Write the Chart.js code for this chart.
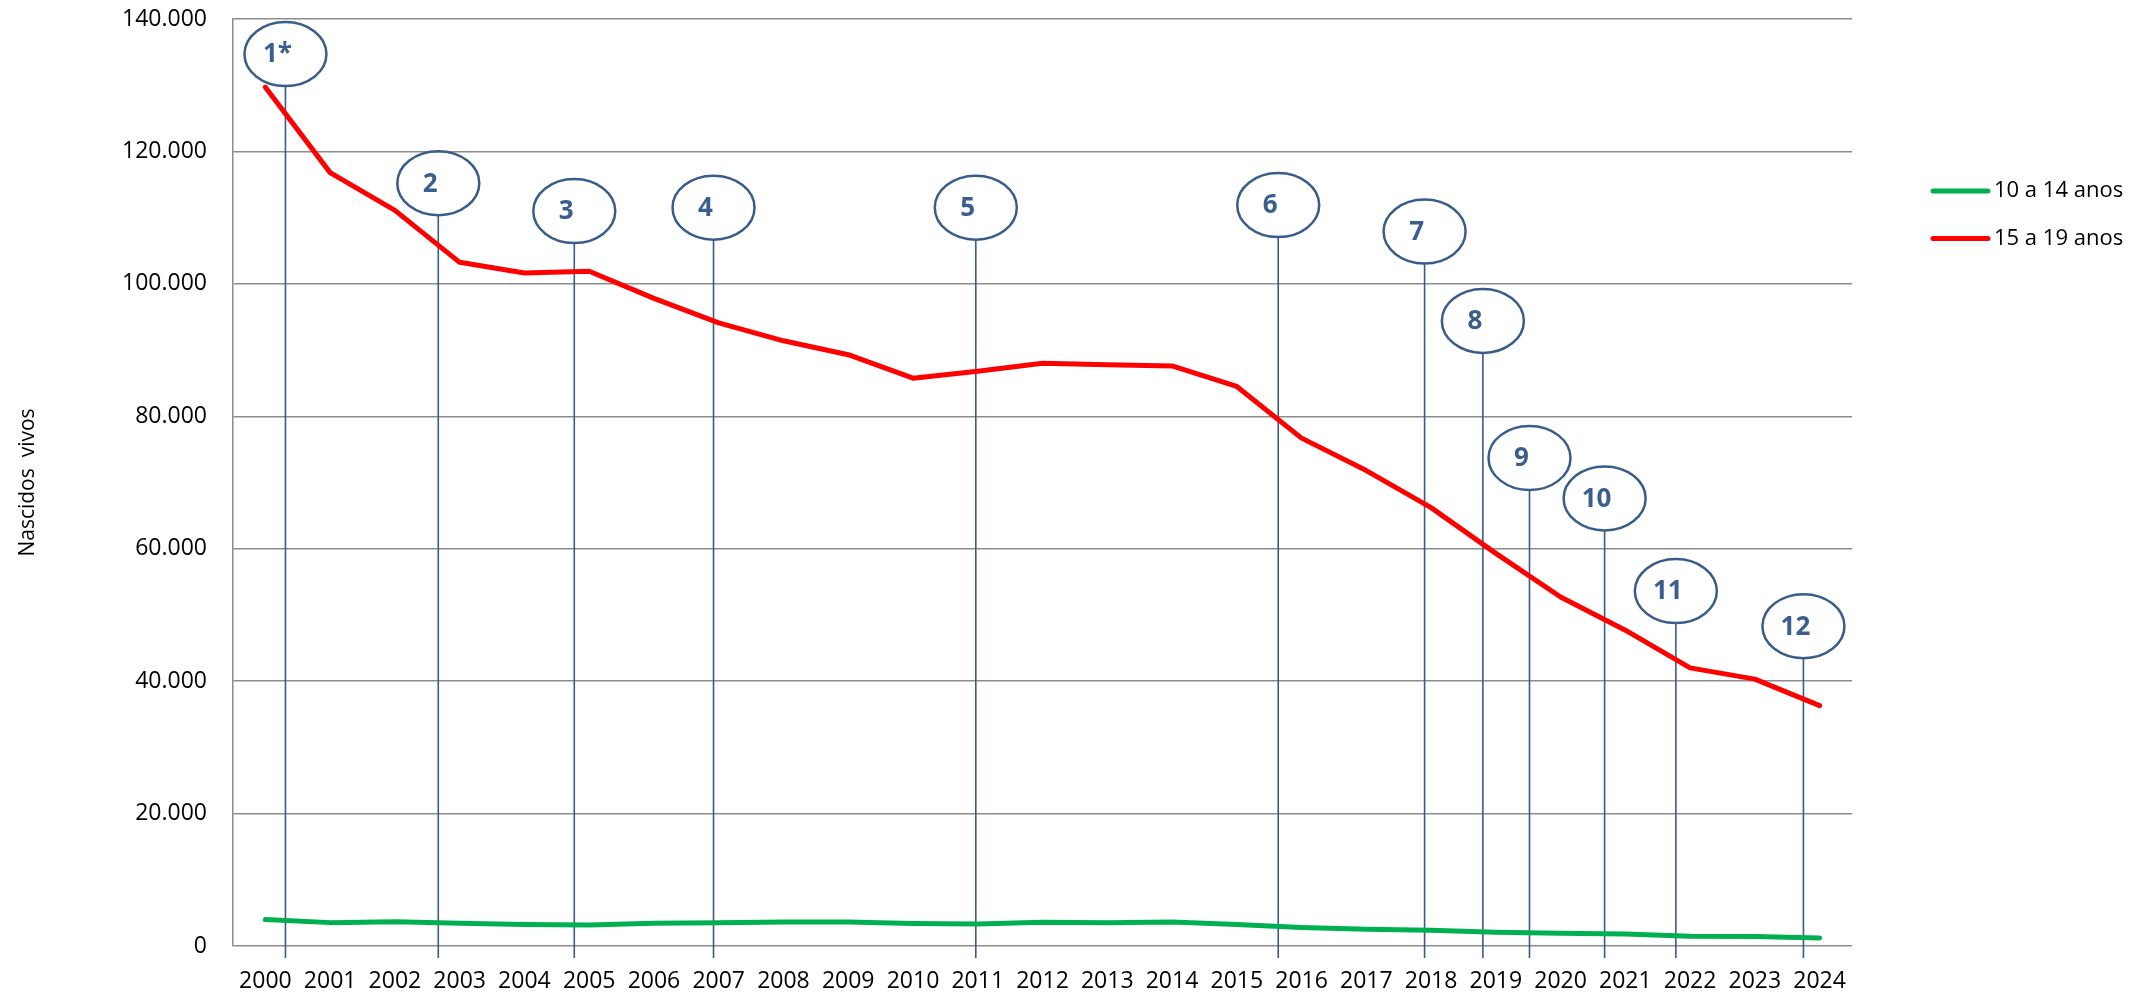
<!DOCTYPE html>
<html>
<head>
<meta charset="utf-8">
<script src="https://cdn.jsdelivr.net/npm/chart.js@4.4.0/dist/chart.umd.min.js"></script>
<style>
  html, body { margin: 0; padding: 0; background: #fff; }
  canvas { display: block; }
</style>
</head>
<body>
<canvas id="mycanvas" width="2143" height="992"></canvas>
<script>
var years = ['2000', '2001', '2002', '2003', '2004', '2005', '2006', '2007', '2008', '2009',
  '2010', '2011', '2012', '2013', '2014', '2015', '2016', '2017', '2018', '2019',
  '2020', '2021', '2022', '2023', '2024'];

// nascidos vivos, maes de 10 a 14 anos
var age10to14 = [3990, 3530, 3680, 3430, 3230, 3170, 3430, 3530, 3620, 3620,
  3380, 3320, 3580, 3530, 3620, 3230, 2780, 2520, 2370, 2070,
  1920, 1810, 1460, 1420, 1210];

// nascidos vivos, maes de 15 a 19 anos
var age15to19 = [129700, 116800, 111100, 103250, 101650, 101900, 97800, 94100, 91400, 89300,
  85750, 86800, 88000, 87800, 87600, 84500, 76700, 71800, 66200, 59300,
  52700, 47700, 42000, 40300, 36300];

var yTicks = [0, 20000, 40000, 60000, 80000, 100000, 120000, 140000];

// marcos numerados (posicao em anos a partir de 2000, altura do balao)
var markLabels = ['1*', '2', '3', '4', '5', '6', '7', '8', '9', '10', '11', '12'];
var markX = [0.31, 2.67, 4.77, 6.92, 10.97, 15.64, 17.90, 18.80, 19.52, 20.68, 21.78, 23.75];
var markY = [134700, 115200, 111000, 111500, 111500, 111900, 107900, 94400, 73700, 67600, 53600, 48300];

var FONT = 'Open Sans';
var BLUE = '#385D8A';

function fmt(v) {
  return String(v).replace(/\B(?=(\d{3})+(?!\d))/g, '.');
}

var marksPlugin = {
  id: 'marks',
  beforeDatasetsDraw: function(chart) {
    var ctx = chart.ctx;
    var xs = chart.scales.x;
    var ys = chart.scales.y;
    var rx = 41, ry = 32;
    var base = ys.getPixelForValue(0) + 12;
    ctx.save();
    ctx.strokeStyle = BLUE;
    for (var i = 0; i < markLabels.length; i++) {
      var px = xs.getPixelForValue(markX[i]);
      var cy = ys.getPixelForValue(markY[i]);
      ctx.lineWidth = 1.6;
      ctx.beginPath();
      ctx.moveTo(px, cy + ry);
      ctx.lineTo(px, base);
      ctx.stroke();
      ctx.lineWidth = 2.5;
      ctx.beginPath();
      ctx.ellipse(px, cy, rx, ry, 0, 0, Math.PI * 2);
      ctx.stroke();
      ctx.fillStyle = '#3A5F8F';
      ctx.font = 'bold 26px "' + FONT + '"';
      ctx.textAlign = 'center';
      ctx.textBaseline = 'middle';
      ctx.fillText(markLabels[i], px - 8, cy + 1);
    }
    ctx.restore();
  }
};

var legendPlugin = {
  id: 'sideLegend',
  afterDraw: function(chart) {
    var ctx = chart.ctx;
    var area = chart.chartArea;
    var x0 = area.right + 81;
    ctx.save();
    chart.data.datasets.forEach(function(ds, i) {
      var y = 191 + i * 47.6;
      ctx.strokeStyle = ds.borderColor;
      ctx.lineWidth = 5;
      ctx.lineCap = 'round';
      ctx.beginPath();
      ctx.moveTo(x0, y);
      ctx.lineTo(x0 + 55, y);
      ctx.stroke();
      ctx.fillStyle = '#000';
      ctx.font = '22px "' + FONT + '"';
      ctx.textAlign = 'left';
      ctx.textBaseline = 'middle';
      ctx.fillText(ds.label, x0 + 61, y);
    });
    ctx.restore();
  }
};

var chartdata = {
  labels: years,
  datasets: [
    {
      label: '10 a 14 anos',
      data: age10to14,
      borderColor: '#00B050',
      backgroundColor: '#00B050',
      borderWidth: 5,
      pointRadius: 0,
      fill: false,
      tension: 0,
      borderJoinStyle: 'round',
      borderCapStyle: 'round'
    },
    {
      label: '15 a 19 anos',
      data: age15to19,
      borderColor: '#FF0000',
      backgroundColor: '#FF0000',
      borderWidth: 5,
      pointRadius: 0,
      fill: false,
      tension: 0,
      borderJoinStyle: 'round',
      borderCapStyle: 'round'
    }
  ]
};

var ctx = document.getElementById('mycanvas');
var LineGraph = new Chart(ctx, {
  type: 'line',
  data: chartdata,
  plugins: [marksPlugin, legendPlugin],
  options: {
    responsive: false,
    animation: false,
    devicePixelRatio: 1,
    layout: { padding: { left: 15, right: 291, top: 19, bottom: 0 } },
    plugins: {
      legend: { display: false },
      tooltip: { enabled: false }
    },
    scales: {
      x: {
        offset: true,
        grid: { display: false, drawTicks: false },
        border: { display: false },
        ticks: {
          padding: 22,
          maxRotation: 0,
          autoSkip: false,
          color: '#000',
          font: { family: FONT, size: 23 }
        },
        afterFit: function(s) { s.height = 46; }
      },
      y: {
        min: 0,
        max: 140000,
        afterBuildTicks: function(s) {
          s.ticks = yTicks.map(function(v) { return { value: v }; });
        },
        grid: { color: '#8c8c8c', lineWidth: 1.5, drawTicks: false },
        border: { display: true, color: '#8c8c8c', width: 1.5 },
        ticks: {
          padding: 26,
          color: '#000',
          font: { family: FONT, size: 23 },
          callback: function(v) { return fmt(v); }
        },
        title: {
          display: true,
          text: 'Nascidos  vivos',
          color: '#000',
          font: { family: FONT, size: 21 },
          padding: 0
        },
        afterFit: function(s) {
          s.width = 218;
          s.paddingTop = 0;
          s.paddingBottom = 0;
        }
      }
    }
  }
});
</script>
</body>
</html>
